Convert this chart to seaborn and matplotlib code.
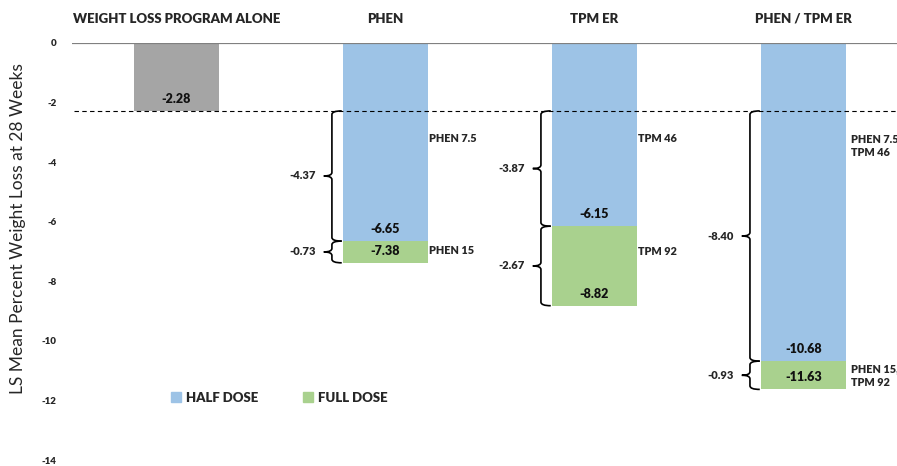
import numpy as np
import pandas as pd
import matplotlib
matplotlib.use("Agg")
import matplotlib.pyplot as plt
from matplotlib.path import Path
from matplotlib.patches import PathPatch, Patch
import seaborn as sns

# ---- data -------------------------------------------------------------
categories = ["WEIGHT LOSS PROGRAM ALONE", "PHEN", "TPM ER", "PHEN / TPM ER"]
program_alone = -2.28
half_dose = [np.nan, -6.65, -6.15, -10.68]
full_dose = [np.nan, -7.38, -8.82, -11.63]
# stated increments shown beside the braces
half_increment = [None, "-4.37", "-3.87", "-8.40"]
full_increment = [None, "-0.73", "-2.67", "-0.93"]
half_names = [None, "PHEN 7.5", "TPM 46", "PHEN 7.5\nTPM 46"]
full_names = [None, "PHEN 15", "TPM 92", "PHEN 15,\nTPM 92"]
yticks = [0, -2, -4, -6, -8, -10, -12, -14]
legend_labels = ["HALF DOSE", "FULL DOSE"]

GREY = "#A5A5A5"
BLUE = "#9DC3E6"
GREEN = "#A9D18E"
BAR_W = 0.407
W = "heavy"

sns.set_theme(style="white")
plt.rcParams["font.family"] = ["Lato", "DejaVu Sans"]

fig = plt.figure(figsize=(8.97, 4.66), dpi=100)
ax = fig.add_axes([72 / 897, 6 / 466, 825 / 897, 417 / 466])

df = pd.DataFrame({"arm": categories, "half": half_dose, "full": full_dose})
base = pd.DataFrame({"arm": [categories[0]], "value": [program_alone]})

common = dict(order=categories, width=BAR_W, errorbar=None, saturation=1,
              linewidth=0, ax=ax)
sns.barplot(data=df, x="arm", y="full", color=GREEN, **common)
sns.barplot(data=df, x="arm", y="half", color=BLUE, **common)
sns.barplot(data=base, x="arm", y="value", color=GREY, **common)

ax.set_xlim(-0.5, 3.447)
ax.set_ylim(-14, 0)
for s in ax.spines.values():
    s.set_visible(False)

# reference lines
ax.axhline(0, color="#808080", lw=1.6, zorder=5)
ax.axhline(program_alone, color="black", lw=0.8, ls=(0, (4, 3)), zorder=5,
           xmin=0.003)

# axis text
ax.xaxis.set_ticks_position("top")
ax.set_xticks(range(len(categories)))
ax.set_xticklabels(categories, fontsize=9.5, fontweight=W)
ax.set_yticks(yticks)
ax.set_yticklabels([str(t) for t in yticks], fontsize=7, fontweight=W)
ax.tick_params(axis="x", length=0, pad=13)
ax.tick_params(axis="y", length=0, pad=11)
ax.set_xlabel("")
ax.set_ylabel("LS Mean Percent Weight Loss at 28 Weeks", fontsize=12.5,
              color="#262626")
ax.yaxis.set_label_coords(-0.056, 0.556)


def brace(x_left, y_top, y_bot):
    """Left curly brace hugging a bar edge between two y values."""
    xv = x_left - 0.053
    xt = x_left - 0.006
    xn = x_left - 0.092
    ym = (y_top + y_bot) / 2
    r = min(0.12, abs(y_top - y_bot) / 5)
    verts = [
        (xt, y_top), (xv, y_top), (xv, y_top - r),
        (xv, ym + r),
        (xv, ym), (xn, ym), (xv, ym), (xv, ym - r),
        (xv, y_bot + r),
        (xv, y_bot), (xt, y_bot),
    ]
    codes = [Path.MOVETO, Path.CURVE3, Path.CURVE3,
             Path.LINETO,
             Path.CURVE3, Path.CURVE3, Path.CURVE3, Path.CURVE3,
             Path.LINETO,
             Path.CURVE3, Path.CURVE3]
    ax.add_patch(PathPatch(Path(verts, codes), fill=False, lw=1.2,
                           edgecolor="black", zorder=6, clip_on=False))


lbl = dict(ha="center", va="center", fontsize=9, fontweight=W,
           color="#111111", zorder=7)
ax.text(0, program_alone + 0.4, f"{program_alone:.2f}", **lbl)

name_y_half = [None, -3.22, -3.19, -3.45]
name_y_full = [None, -6.95, -7.0, -11.17]
name_dx = [None, 0.006, 0.006, 0.022]

for i in range(1, len(categories)):
    h, f = half_dose[i], full_dose[i]
    ax.text(i, h + 0.4, f"{h:.2f}", **lbl)
    ax.text(i, f + 0.4, f"{f:.2f}", **lbl)

    left = i - BAR_W / 2
    right = i + BAR_W / 2
    brace(left, program_alone, h)
    brace(left, h, f)
    ax.text(left - 0.13, (program_alone + h) / 2, half_increment[i],
            ha="right", va="center", fontsize=8, fontweight=W)
    ax.text(left - 0.13, (h + f) / 2, full_increment[i],
            ha="right", va="center", fontsize=8, fontweight=W)

    ax.text(right + name_dx[i], name_y_half[i], half_names[i], ha="left",
            va="center", fontsize=7.8, fontweight=W, linespacing=1.25)
    ax.text(right + name_dx[i], name_y_full[i], full_names[i], ha="left",
            va="center", fontsize=7.8, fontweight=W, linespacing=1.25)

handles = [Patch(color=BLUE, label=legend_labels[0]),
           Patch(color=GREEN, label=legend_labels[1])]
ax.legend(handles=handles, loc="center left", bbox_to_anchor=(0.12, 0.149),
          ncol=2, frameon=False, borderaxespad=0, borderpad=0,
          handlelength=0.75, handleheight=0.75, handletextpad=0.4,
          columnspacing=3.4, prop={"weight": W, "size": 9.5})

fig.savefig("out.png", dpi=100)
